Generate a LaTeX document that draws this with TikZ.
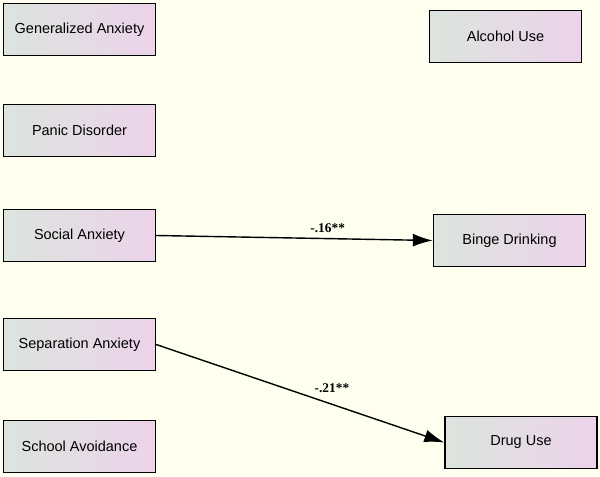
\documentclass[tikz,border=0pt]{standalone}
\usepackage{fontspec}
\setmainfont{Liberation Sans}
\newfontfamily\pathfont{Liberation Serif}
\usepackage{xcolor}
\usepackage{tikz}
\usetikzlibrary{arrows.meta}
\definecolor{ivorybg}{HTML}{FFFFF0}
\definecolor{boxleft}{HTML}{DCE4DE}
\definecolor{boxright}{HTML}{ECD3EA}

\begin{document}
\begin{tikzpicture}[x=0.025cm, y=-0.025cm,
    varbox/.style={draw=black, line width=0.9pt, left color=boxleft, right color=boxright,
        minimum width=3.8cm, minimum height=1.3cm, inner sep=0pt, font=\fontsize{10.3}{12}\selectfont},
    path/.style={line width=1pt, -{Latex[length=5mm, width=3.2mm]}},
    coef/.style={font=\pathfont\bfseries\fontsize{9.5}{11}\selectfont}]
            \fill[ivorybg] (0,0) rectangle (600,476);
            \useasboundingbox (0,0) rectangle (600,476);
            % predictors
            \node[varbox] (genanx) at (79.5, 29.5) {Generalized Anxiety};
            \node[varbox] (panic) at (79.5, 130.5) {Panic Disorder};
            \node[varbox] (social) at (79.5, 235.5) {Social Anxiety};
            \node[varbox] (separ) at (79.5, 344.5) {Separation Anxiety};
            \node[varbox] (school) at (79.5, 446.5) {School Avoidance};
            % outcomes
            \node[varbox] (alcohol) at (505.5, 36.5) {Alcohol Use};
            \node[varbox] (binge) at (509.5, 240.5) {Binge Drinking};
            \node[varbox] (drug) at (521, 442.5) {Drug Use};
            \draw [path] (social.east) -- (binge.west) node [coef, pos=0.62, above=0.7pt] {-.16**};
            \draw [path] (separ.east) -- (drug.west) node [coef, pos=0.61, yshift=11.5pt] {-.21**};
        \end{tikzpicture}
\end{document}
